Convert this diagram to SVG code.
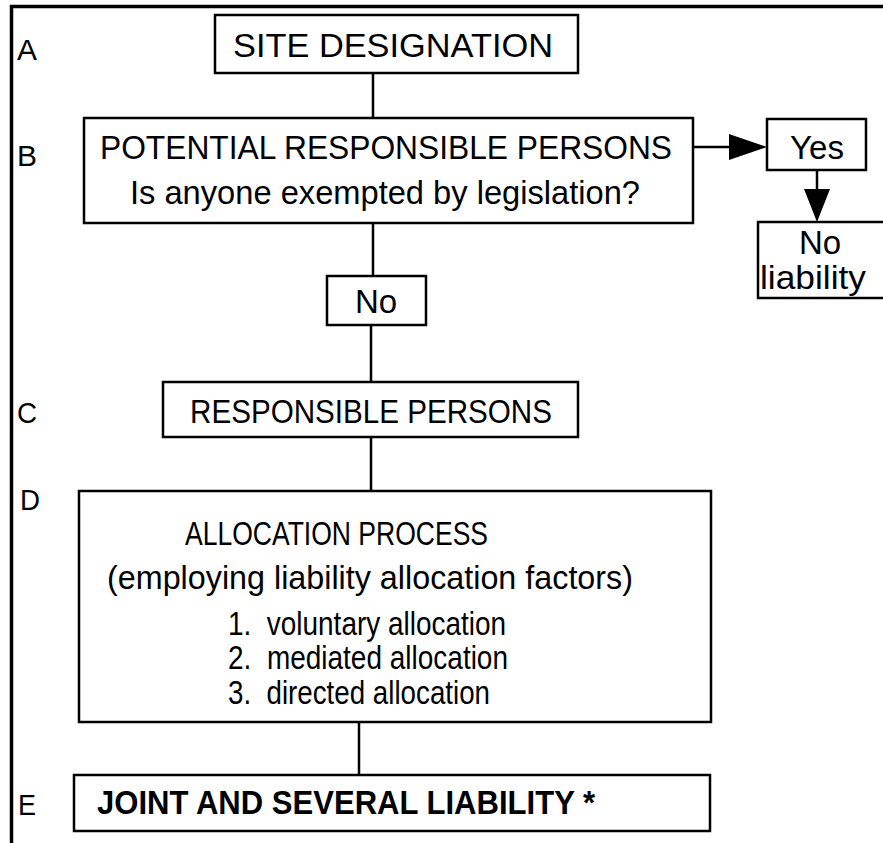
<svg xmlns="http://www.w3.org/2000/svg" width="883" height="843" viewBox="0 0 883 843">
<defs>
<style>
.box{fill:#fff;stroke:#000;stroke-width:2.5}
.ln{stroke:#000;stroke-width:2.5;fill:none}
.t{font-family:"Liberation Sans",Arial,sans-serif;font-size:33px;fill:#000;white-space:pre}
.c{text-anchor:middle}
.lbl{font-family:"Liberation Sans",Arial,sans-serif;font-size:30px;fill:#000}
</style>
</defs>
<rect width="883" height="843" fill="#fff"/>
<g id="frame">
<line x1="10" y1="6.5" x2="883" y2="6.5" stroke="#000" stroke-width="3.5"/>
<line x1="11.5" y1="5" x2="11.5" y2="843" stroke="#000" stroke-width="3.5"/>
</g>
<g id="labels">
<text class="lbl" x="17" y="60" textLength="20" lengthAdjust="spacingAndGlyphs">A</text>
<text class="lbl" x="17" y="166" textLength="20" lengthAdjust="spacingAndGlyphs">B</text>
<text class="lbl" x="17" y="423" textLength="20" lengthAdjust="spacingAndGlyphs">C</text>
<text class="lbl" x="20" y="510" textLength="20" lengthAdjust="spacingAndGlyphs">D</text>
<text class="lbl" x="18" y="815" textLength="18" lengthAdjust="spacingAndGlyphs">E</text>
</g>
<g id="connectors">
<line class="ln" x1="373" y1="73" x2="373" y2="118"/>
<line class="ln" x1="373" y1="223" x2="373" y2="276"/>
<line class="ln" x1="371" y1="325" x2="371" y2="382"/>
<line class="ln" x1="371" y1="437" x2="371" y2="491"/>
<line class="ln" x1="359" y1="722" x2="359" y2="775"/>
<line class="ln" x1="693" y1="147" x2="730" y2="147"/>
<path d="M729,134 L767,147 L729,160 Z" fill="#000"/>
<line class="ln" x1="817" y1="170" x2="817" y2="190"/>
<path d="M804,189 L817,222 L830,189 Z" fill="#000"/>
</g>
<g id="site-designation">
<rect class="box" x="215" y="15" width="363" height="58"/>
<text class="t" x="233" y="57" textLength="320" lengthAdjust="spacingAndGlyphs">SITE DESIGNATION</text>
</g>
<g id="potential">
<rect class="box" x="84" y="118" width="609" height="105"/>
<text class="t" x="100" y="159" textLength="572" lengthAdjust="spacingAndGlyphs">POTENTIAL RESPONSIBLE PERSONS</text>
<text class="t" x="130" y="204" textLength="510" lengthAdjust="spacingAndGlyphs">Is anyone exempted by legislation?</text>
</g>
<g id="yes">
<rect class="box" x="767" y="119" width="99" height="51"/>
<text class="t c" x="817" y="159">Yes</text>
</g>
<g id="no-liability">
<rect class="box" x="758" y="222" width="130" height="76"/>
<text class="t c" x="820" y="254">No</text>
<text class="t" x="760" y="289" textLength="106" lengthAdjust="spacingAndGlyphs">liability</text>
</g>
<g id="no">
<rect class="box" x="327" y="276" width="99" height="49"/>
<text class="t c" x="376" y="313">No</text>
</g>
<g id="responsible">
<rect class="box" x="163" y="382" width="415" height="55"/>
<text class="t" x="190" y="423" textLength="362" lengthAdjust="spacingAndGlyphs">RESPONSIBLE PERSONS</text>
</g>
<g id="allocation">
<rect class="box" x="79" y="491" width="632" height="231"/>
<text class="t" x="185" y="545" textLength="303" lengthAdjust="spacingAndGlyphs">ALLOCATION PROCESS</text>
<text class="t" x="107" y="589" textLength="526" lengthAdjust="spacingAndGlyphs">(employing liability allocation factors)</text>
<text class="t" x="228" y="635" textLength="278" lengthAdjust="spacingAndGlyphs" xml:space="preserve">1.  voluntary allocation</text>
<text class="t" x="228" y="669" textLength="280" lengthAdjust="spacingAndGlyphs" xml:space="preserve">2.  mediated allocation</text>
<text class="t" x="228" y="704" textLength="262" lengthAdjust="spacingAndGlyphs" xml:space="preserve">3.  directed allocation</text>
</g>
<g id="joint">
<rect class="box" x="74" y="775" width="636" height="56"/>
<text class="t" x="97" y="814" font-weight="bold" textLength="498" lengthAdjust="spacingAndGlyphs">JOINT AND SEVERAL LIABILITY *</text>
</g>
</svg>
